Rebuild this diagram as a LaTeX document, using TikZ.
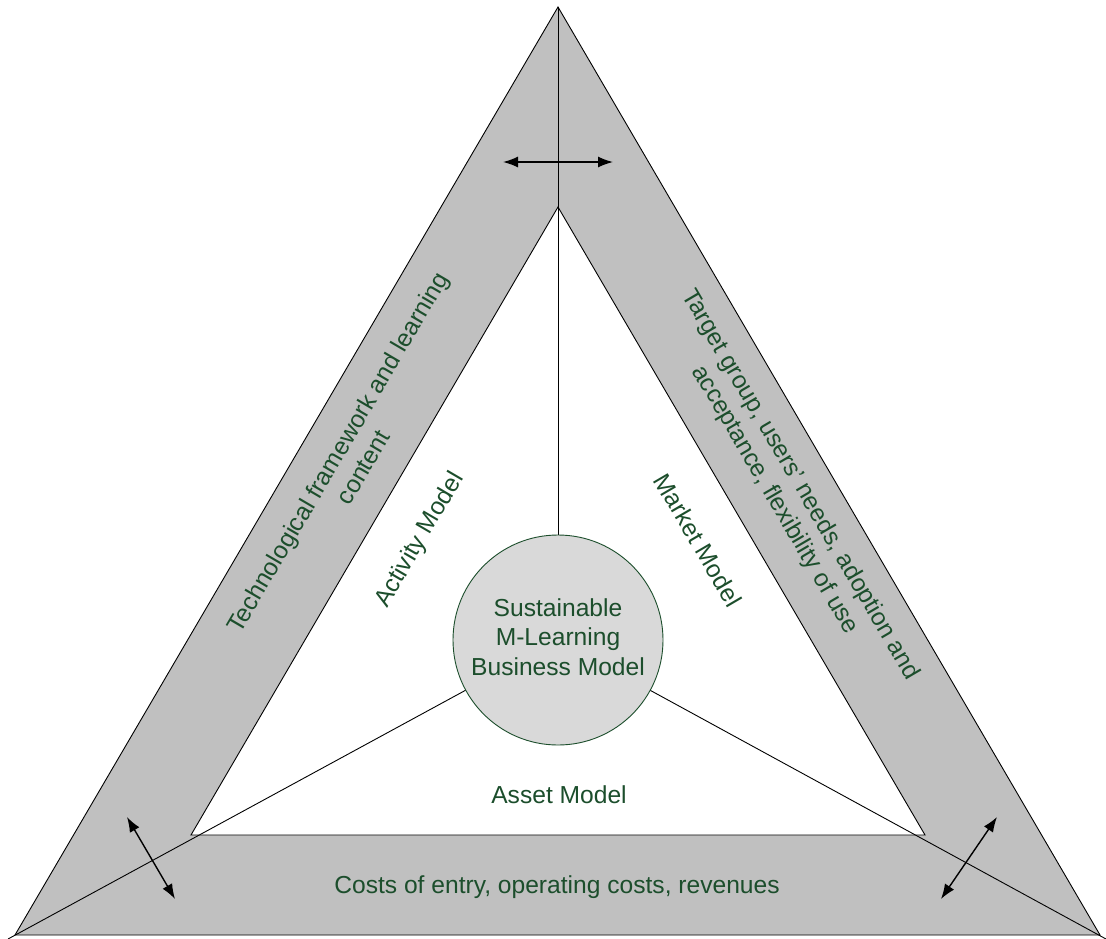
\documentclass[tikz,border=0pt]{standalone}
\usepackage{fontspec}
\setmainfont{Liberation Sans}
\usetikzlibrary{arrows.meta,calc}
\definecolor{txtgreen}{RGB}{28,78,44}
\definecolor{bandgray}{RGB}{192,192,192}
\definecolor{circgray}{RGB}{217,217,217}
\tikzset{
  lab/.style={text=txtgreen,font=\fontsize{24.6}{29.5}\selectfont,inner sep=0pt,align=center},
  dblarrow/.style={{Latex[length=15pt,width=11pt]}-{Latex[length=15pt,width=11pt]},line width=1.4pt,draw=black},
  thin line/.style={line width=0.9pt,draw=black}
}
\begin{document}
\begin{tikzpicture}[x=1pt,y=-1pt]
\useasboundingbox (0,0) rectangle (1106,938);
\fill[white] (0,0) rectangle (1106,938);
% outer and inner triangles
\coordinate (A) at (558,7);
\coordinate (B) at (15,935);
\coordinate (C) at (1100,935);
\coordinate (a) at (558,207);
\coordinate (b) at (191,835);
\coordinate (c) at (925,835);
\coordinate (O) at (558,640);
\coordinate (Bx) at (8,939);
\coordinate (Cx) at (1106,939);
\fill[bandgray] (A) -- (B) -- (C) -- cycle;
\draw[thin line] (A) -- (B) -- (C) -- cycle;
\filldraw[thin line,fill=white] (a) -- (b) -- (c) -- cycle;
% spokes
\draw[thin line] (A) -- (O);
\draw[thin line] (O) -- (Bx);
\draw[thin line] (O) -- (Cx);
% circle
\node[circle,minimum size=210pt,inner sep=0pt,fill=circgray,draw=txtgreen,line width=0.9pt] (core) at (O) {};
\node[lab] (coretxt) at (558,637) {Sustainable\\M-Learning\\Business Model};
% arrows
\coordinate (t1) at (503,162);
\coordinate (t2) at (613,162);
\draw[dblarrow] (t1) -- (t2);
\coordinate (l1) at (127,817);
\coordinate (l2) at (175,899);
\draw[dblarrow] (l1) -- (l2);
\coordinate (r1) at (997,817);
\coordinate (r2) at (941,899);
\draw[dblarrow] (r1) -- (r2);
% labels
\node[lab,rotate=59.66] (tech) at (350,459.5) {Technological framework and learning\\content};
\node[lab,rotate=-59.66] (target) at (787.5,492.5) {Target group, users’ needs, adoption and\\acceptance, flexibility of use};
\node[lab,rotate=59.66] (activity) at (420,540) {Activity Model};
\node[lab,rotate=-59.66] (market) at (698,540) {Market Model};
\node[lab,anchor=base] (asset) at (559,803) {Asset Model};
\node[lab,anchor=base] (costs) at (557,893) {Costs of entry, operating costs, revenues};
\end{tikzpicture}
\end{document}
